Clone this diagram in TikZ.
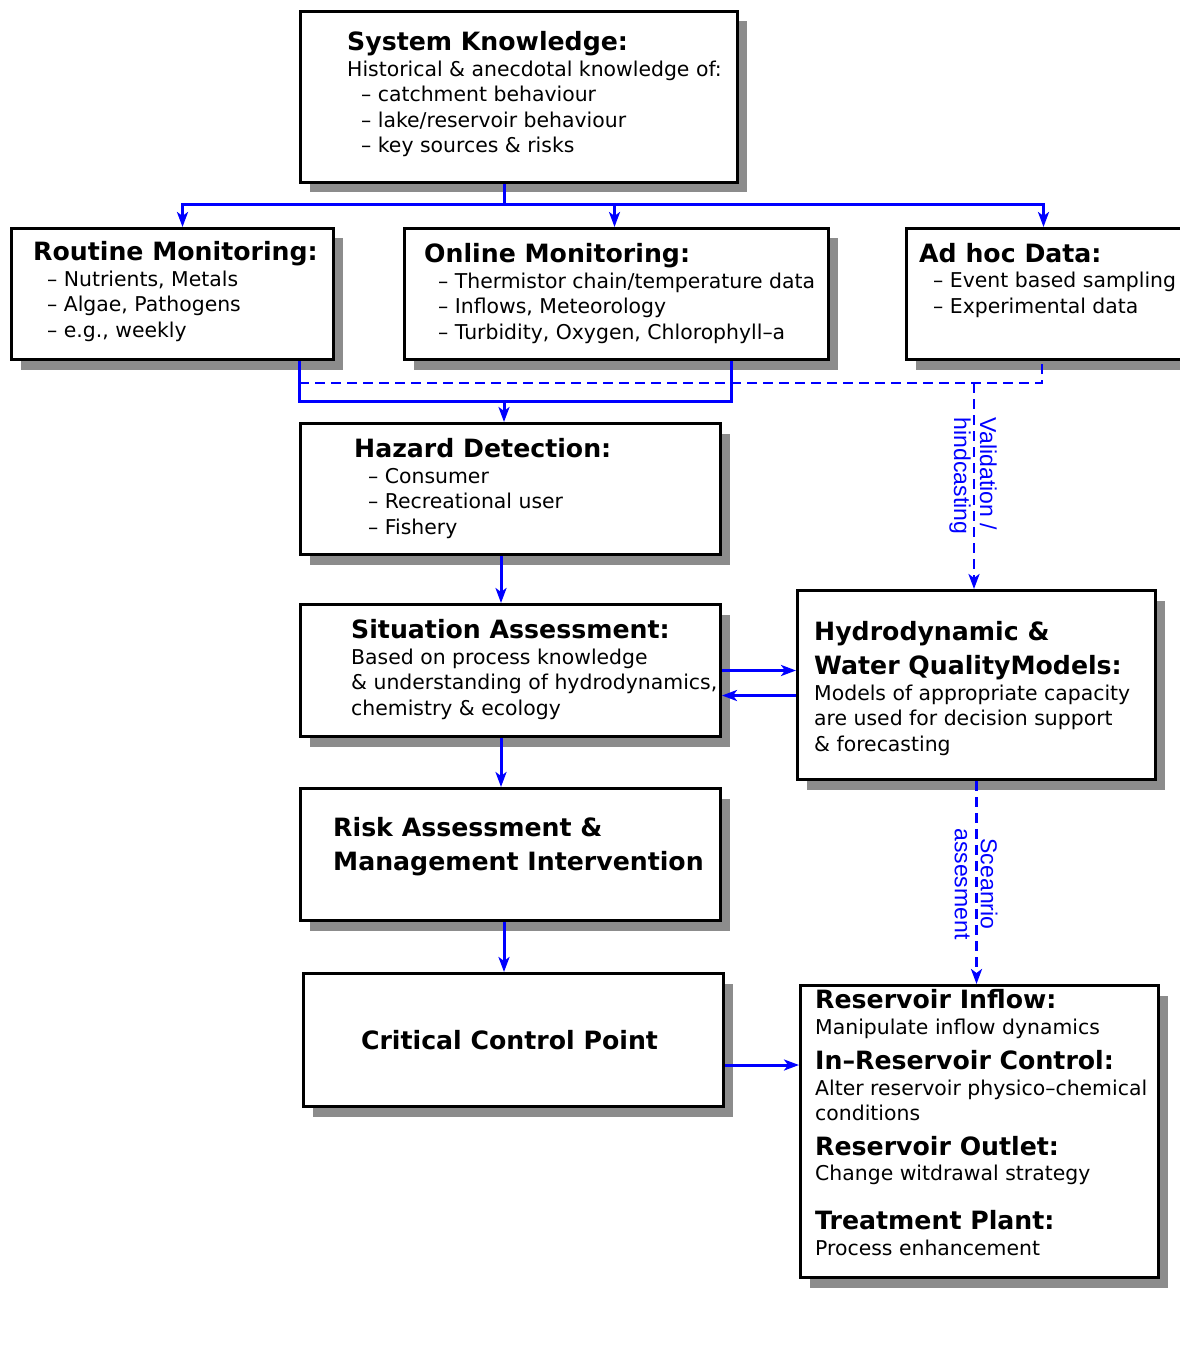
\documentclass[tikz,border=0pt]{standalone}
\usepackage{fontspec}
\setmainfont{DejaVu Sans}
\newfontfamily\lblfont{Liberation Sans}
\usetikzlibrary{arrows.meta,shadows}

\newcommand{\boxhead}[1]{{\fontsize{25.2}{30}\selectfont\bfseries #1}}
\newcommand{\boxitem}[1]{\hspace*{14pt}-- #1}

\begin{document}
\begin{tikzpicture}[x=1pt,y=-1pt,>={Stealth[length=15pt,width=11pt,inset=4pt]},
    panel/.style={draw,line width=3pt,fill=white,anchor=north west,inner sep=0pt,
      general shadow={fill=black!45,shadow xshift=9pt,shadow yshift=-10pt}},
    txt/.style={anchor=base west,align=left,inner sep=0pt,font=\fontsize{20.4}{25.5}\selectfont},
    flow/.style={blue,line width=3pt},
    dflow/.style={flow,line width=2.8pt,dash pattern=on 10pt off 6pt},
    lbl/.style={blue,inner sep=0pt,rotate=-90,font=\lblfont\fontsize{23}{26}\selectfont}]

  \useasboundingbox (0,0) rectangle (1179,1348);

  % boxes
  \node[panel,minimum width=437pt,minimum height=171pt] (sk) at (299,10) {};
  \node[panel,minimum width=322pt,minimum height=131pt] (rm) at (10,227) {};
  \node[panel,minimum width=424pt,minimum height=131pt] (om) at (403,227) {};
  \node[panel,minimum width=290pt,minimum height=131pt] (ad) at (905,227) {};
  \node[panel,minimum width=420pt,minimum height=131pt] (hz) at (299,422) {};
  \node[panel,minimum width=420pt,minimum height=132pt] (sa) at (299,603) {};
  \node[panel,minimum width=358pt,minimum height=189pt] (hm) at (796,589) {};
  \node[panel,minimum width=420pt,minimum height=132pt] (rk) at (299,787) {};
  \node[panel,minimum width=420pt,minimum height=133pt] (cc) at (302,972) {};
  \node[panel,minimum width=358pt,minimum height=292pt] (rs) at (799,984) {};

  % box texts (placed at the baseline of the last line)
  \node[txt] (sktext) at (347,153) {\boxhead{System Knowledge:}\\
    Historical \& anecdotal knowledge of:\\
    \boxitem{catchment behaviour}\\
    \boxitem{lake/reservoir behaviour}\\
    \boxitem{key sources \& risks}};
  \node[txt] (rmtext) at (33,337) {\boxhead{Routine Monitoring:}\\
    \boxitem{Nutrients, Metals}\\
    \boxitem{Algae, Pathogens}\\
    \boxitem{e.g., weekly}};
  \node[txt] (omtext) at (424,339) {\boxhead{Online Monitoring:}\\
    \boxitem{Thermistor chain/temperature data}\\
    \boxitem{Inflows, Meteorology}\\
    \boxitem{Turbidity, Oxygen, Chlorophyll--a}};
  \node[txt] (adtext) at (919,313) {\boxhead{Ad hoc Data:}\\
    \boxitem{Event based sampling}\\
    \boxitem{Experimental data}};
  \node[txt] (hztext) at (354,534) {\boxhead{Hazard Detection:}\\
    \boxitem{Consumer}\\
    \boxitem{Recreational user}\\
    \boxitem{Fishery}};
  \node[txt] (satext) at (351,715) {\boxhead{Situation Assessment:}\\
    Based on process knowledge\\
    \& understanding of hydrodynamics,\\
    chemistry \& ecology};
  \node[txt] (hmtext) at (814,751) {\boxhead{Hydrodynamic \&}\\[8.5pt]
    \boxhead{Water QualityModels:}\\
    Models of appropriate capacity\\
    are used for decision support\\
    \& forecasting};
  \node[txt] (rktext) at (333,870) {\boxhead{Risk Assessment \&}\\[8.5pt]
    \boxhead{Management Intervention}};
  \node[inner sep=0pt,xshift=-4pt] (cctext) at (cc.center) {\boxhead{Critical Control Point}};
  \node[txt] (rstext) at (815,1255) {\boxhead{Reservoir Inflow:}\\
    Manipulate inflow dynamics\\[10pt]
    \boxhead{In--Reservoir Control:}\\
    Alter reservoir physico--chemical\\
    conditions\\[9pt]
    \boxhead{Reservoir Outlet:}\\
    Change witdrawal strategy\\[23.5pt]
    \boxhead{Treatment Plant:}\\
    Process enhancement};

  % connectors
  \coordinate (top) at (504,205);
  \coordinate (mL) at (299,401);
  \coordinate (mR) at (731,401);
  \coordinate (mC) at (504,401);
  \coordinate (dL) at (299,383);
  \coordinate (dR) at (1042,383);
  \coordinate (dV) at (974,383);
  \coordinate (colA) at (501,0);
  \coordinate (colB) at (504,0);
  \coordinate (sb) at ([yshift=-25pt]sa.east);
  \coordinate (cb) at ([yshift=-25pt]cc.east);

  \draw[flow] (sk.south -| top) -- (top);
  \draw[flow,->] (top) -| ([xshift=10pt]rm.north);
  \draw[flow,->] (top) -| ([xshift=-2pt]om.north);
  \draw[flow,->] (top) -| ([xshift=-8pt]ad.north);

  \draw[flow] (rm.south -| mL) -- (mL) -- (mR) -- (om.south -| mR);
  \draw[flow,->] (mC) -- (hz.north -| mC);
  \draw[dflow] (dL) -- (dR) -- (ad.south -| dR);
  \draw[dflow,->] (dV) -- (hm.north -| dV);

  \draw[flow,->] (hz.south -| colA) -- (sa.north -| colA);
  \draw[flow,->] (sa.south -| colA) -- (rk.north -| colA);
  \draw[flow,->] (rk.south -| colB) -- (cc.north -| colB);
  \draw[flow,->] (sa.east) -- (sa.east -| hm.west);
  \draw[flow,->] (sb -| hm.west) -- (sb);
  \draw[flow,->] (cb) -- (cb -| rs.west);
  \draw[dflow,->] (hm.south) -- (rs.north -| hm.south);

  % labels
  \node[lbl,align=left] (valid) at (973,476) {Validation /\\hindcasting};
  \node[lbl,align=center] (scen) at (976,884) {Sceanrio\\assesment};
\end{tikzpicture}
\end{document}
